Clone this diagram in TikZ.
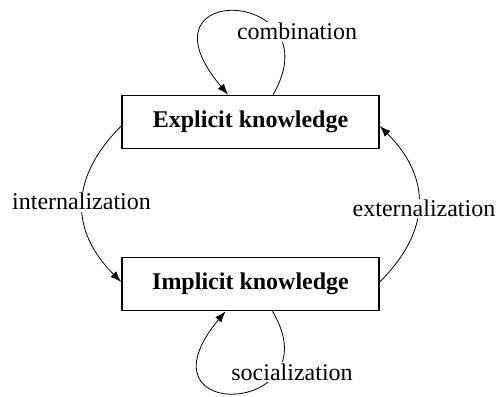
\documentclass[tikz,border=0pt]{standalone}
\usepackage{fontspec}
\setmainfont{Liberation Serif}
\usetikzlibrary{arrows.meta}
\begin{document}
\begin{tikzpicture}[x=1pt,y=1pt,
  knowbox/.style={draw, line width=1.6pt, minimum width=257pt, minimum height=53pt,
    inner sep=0pt, font=\fontsize{24}{28}\selectfont\bfseries},
  flow/.style={line width=0.8pt, -{Latex[length=11pt,width=8pt]}},
  flowlabel/.style={fill=white, inner sep=1.5pt, anchor=base, font=\fontsize{24}{28}\selectfont}]
\useasboundingbox (0,0) rectangle (497,396);

% the two kinds of knowledge
\node[knowbox] (exp) at (250.5,274) {Explicit knowledge};
\node[knowbox] (imp) at (250.5,112) {Implicit knowledge};

% conversions between and within them
\draw[flow] ([xshift=22.5pt]exp.north) .. controls +(62,106) and +(-98,116) .. ([xshift=-22.5pt]exp.north);
\draw[flow] ([xshift=22pt]imp.south) .. controls +(62,-104) and +(-95,-114) .. ([xshift=-25pt]imp.south);
\draw[flow] ([yshift=-4pt]exp.west) to[out=225,in=135,looseness=1.2] ([yshift=2pt]imp.west);
\draw[flow] ([yshift=2pt]imp.east) to[out=45,in=-45,looseness=1.2] ([yshift=-4pt]exp.east);

% labels sit on top of their curves
\node[flowlabel] (comb) at (297,356) {combination};
\node[flowlabel] (intl) at (81.5,186) {internalization};
\node[flowlabel] (extl) at (424,179) {externalization};
\node[flowlabel] (soc) at (292,16) {socialization};
\end{tikzpicture}
\end{document}
